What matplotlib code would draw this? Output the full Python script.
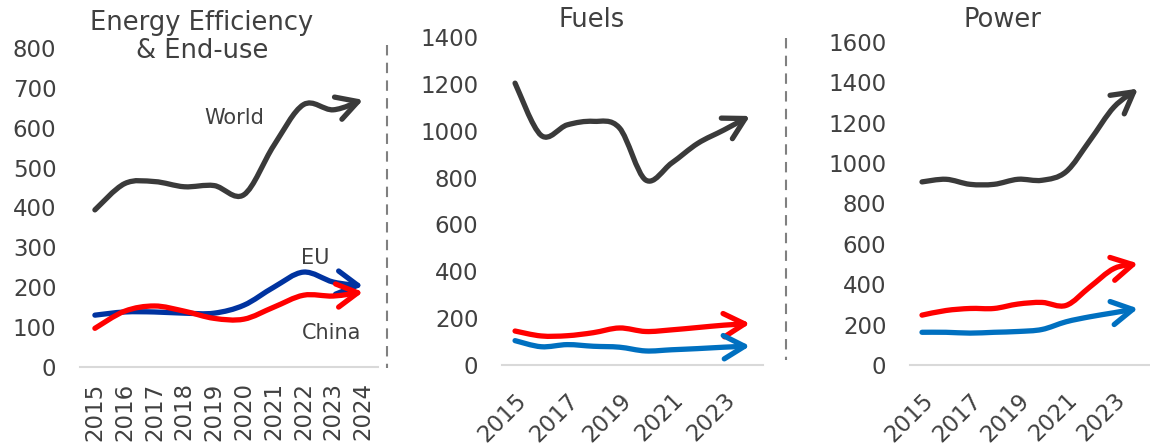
import matplotlib
matplotlib.use("Agg")
import matplotlib.pyplot as plt
from matplotlib.path import Path
from matplotlib.patches import FancyArrowPatch
from matplotlib.lines import Line2D

years = list(range(2015, 2025))

eff_world = [394, 460, 465, 452, 455, 432, 555, 658, 645, 670]
eff_eu = [130, 138, 138, 135, 135, 155, 200, 238, 213, 203]
eff_china = [97, 140, 153, 140, 122, 120, 150, 180, 178, 188]

fuels_world = [1203, 980, 1025, 1040, 1012, 790, 862, 946, 1003, 1063]
fuels_china = [145, 124, 125, 138, 158, 143, 150, 160, 170, 177]
fuels_other = [104, 78, 87, 80, 76, 60, 65, 70, 76, 81]

power_world = [907, 920, 895, 895, 920, 915, 957, 1113, 1278, 1369]
power_china = [247, 270, 280, 280, 302, 310, 295, 387, 478, 503]
power_other = [162, 162, 158, 162, 166, 176, 214, 239, 259, 280]

GREY = "#3a3a3a"
TXT = "#404040"
RED = "#ff0000"
NAVY = "#0033a0"
BLUE = "#0070c0"

W, H = 1150, 445
plt.rcParams["font.family"] = "DejaVu Sans"


def smooth(xs, ys):
    pts = list(zip(xs, ys))
    verts = [pts[0]]
    codes = [Path.MOVETO]
    n = len(pts)
    for i in range(n - 1):
        p0 = pts[i - 1] if i > 0 else pts[i]
        p1 = pts[i]
        p2 = pts[i + 1]
        p3 = pts[i + 2] if i + 2 < n else p2
        c1 = (p1[0] + (p2[0] - p0[0]) / 6, p1[1] + (p2[1] - p0[1]) / 6)
        c2 = (p2[0] - (p3[0] - p1[0]) / 6, p2[1] - (p3[1] - p1[1]) / 6)
        verts += [c1, c2, p2]
        codes += [Path.CURVE4] * 3
    return Path(verts, codes)


def arrow_line(ax, ys, color):
    xs = list(range(len(ys)))
    p = FancyArrowPatch(path=smooth(xs, ys), transform=ax.transData,
                        arrowstyle="->,head_length=0.75,head_width=0.42",
                        mutation_scale=20, lw=3.8, color=color,
                        capstyle="round", joinstyle="round", clip_on=False)
    ax.add_patch(p)


def box(x0, x1, y_zero, y_top):
    return [x0 / W, 1 - y_zero / H, (x1 - x0) / W, (y_zero - y_top) / H]


fig = plt.figure(figsize=(11.5, 4.45), dpi=100)

ax1 = fig.add_axes(box(80, 378, 367, 48))
ax2 = fig.add_axes(box(502, 763, 365, 37))
ax3 = fig.add_axes(box(910, 1150, 365, 42))

for ax, top in [(ax1, 800), (ax2, 1400), (ax3, 1600)]:
    ax.set_xlim(-0.5, 9.5)
    ax.set_ylim(0, top)
    for s in ["top", "right", "left"]:
        ax.spines[s].set_visible(False)
    ax.spines["bottom"].set_color("#d9d9d9")
    ax.spines["bottom"].set_linewidth(1.5)
    ax.tick_params(length=0, labelsize=16.5, colors=TXT)
    ax.tick_params(axis="y", pad=17)
    ax.patch.set_alpha(0)

ax1.set_yticks(range(0, 801, 100))
ax2.set_yticks(range(0, 1401, 200))
ax3.set_yticks(range(0, 1601, 200))

ax1.set_xticks(range(10))
ax1.set_xticklabels([str(y) for y in years], rotation=90, va="top", ha="center")
ax1.tick_params(axis="x", pad=11)
for ax in (ax2, ax3):
    ax.set_xticks(range(0, 10, 2))
    ax.set_xticklabels([str(y) for y in years[::2]], rotation=45,
                       ha="right", va="top", rotation_mode="anchor")
    ax.tick_params(axis="x", pad=17)

arrow_line(ax1, eff_world, GREY)
arrow_line(ax1, eff_eu, NAVY)
arrow_line(ax1, eff_china, RED)

arrow_line(ax2, fuels_world, GREY)
arrow_line(ax2, fuels_china, RED)
arrow_line(ax2, fuels_other, BLUE)

arrow_line(ax3, power_world, GREY)
arrow_line(ax3, power_china, RED)
arrow_line(ax3, power_other, BLUE)


def fx(x):
    return x / W


def fy(y):
    return 1 - y / H


fig.text(fx(202), fy(37), "Energy Efficiency\n& End-use", ha="center", va="center",
         fontsize=18.5, color=TXT, linespacing=1.15)
fig.text(fx(592), fy(20), "Fuels", ha="center", va="center", fontsize=18.5, color=TXT)
fig.text(fx(1003), fy(20), "Power", ha="center", va="center", fontsize=18.5, color=TXT)

fig.text(fx(234), fy(118), "World", ha="center", va="center", fontsize=15, color=TXT)
fig.text(fx(315), fy(258), "EU", ha="center", va="center", fontsize=15, color=TXT)
fig.text(fx(332), fy(333), "China", ha="center", va="center", fontsize=15, color=TXT)

for x, y0, y1 in [(387, 45, 368), (786, 38, 360)]:
    fig.add_artist(Line2D([fx(x), fx(x)], [fy(y0), fy(y1)], transform=fig.transFigure,
                          color="#808080", lw=1.5, dashes=(5, 3.5)))

fig.savefig("out.png", dpi=100)
